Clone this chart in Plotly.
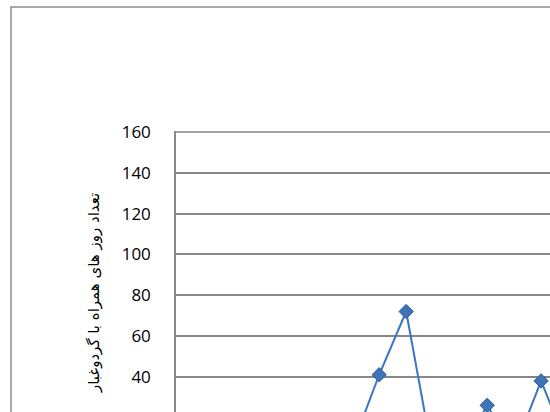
import plotly.graph_objects as go

# Monthly dust-day counts (series index along the category axis)
periods = list(range(15))
dust_days = [10, 8, 14, 6, 12, 9, 6, 41, 72, 0, 2, 26, 4, 38, 5]

y_ticks = [20, 40, 60, 80, 100, 120, 140, 160]
y_title = "تعداد روز های همراه با گردوغبار"

grid_color = "#878787"
line_color = "#3a76c2"

fig = go.Figure()
fig.add_trace(go.Scatter(
    x=periods,
    y=dust_days,
    mode="lines+markers",
    line=dict(color=line_color, width=2),
    marker=dict(symbol="diamond", size=11, color="#3f74b9",
                line=dict(color="#2c5a92", width=1)),
    showlegend=False,
))

fig.update_layout(
    width=550,
    height=412,
    margin=dict(l=176, r=0, t=131, b=0),
    paper_bgcolor="white",
    plot_bgcolor="white",
    xaxis=dict(
        range=[-0.53, 13.33],
        showgrid=False,
        zeroline=False,
        showline=False,
        showticklabels=False,
        ticks="",
        fixedrange=True,
    ),
    yaxis=dict(
        range=[22.75, 160.45],
        tickvals=y_ticks,
        ticktext=[str(v) for v in y_ticks],
        showgrid=True,
        gridcolor=grid_color,
        gridwidth=1.5,
        zeroline=False,
        showline=True,
        linecolor=grid_color,
        linewidth=1.5,
        ticks="",
        ticklabelstandoff=20,
        tickfont=dict(family="Open Sans", size=17, color="#000000"),
        fixedrange=True,
    ),
    shapes=[
        # chart-area border
        dict(type="rect", xref="paper", yref="paper",
             x0=(11 - 176) / 374, x1=1.2, y0=-0.2, y1=1 + (131 - 7) / 281,
             line=dict(color="#8c8c8c", width=1.5), fillcolor="rgba(0,0,0,0)",
             layer="below"),
        # top gridline at the axis maximum
        dict(type="line", xref="paper", yref="y",
             x0=0, x1=1, y0=y_ticks[-1], y1=y_ticks[-1],
             line=dict(color=grid_color, width=1.5), layer="below"),
    ],
    annotations=[
        dict(text=y_title, textangle=-90, xref="paper", yref="paper",
             x=(94 - 176) / 374, y=(412 - 293) / 281,
             xanchor="center", yanchor="middle", showarrow=False,
             font=dict(family="DejaVu Sans", size=15, color="#000000")),
    ],
)

fig.write_html("out.html")
